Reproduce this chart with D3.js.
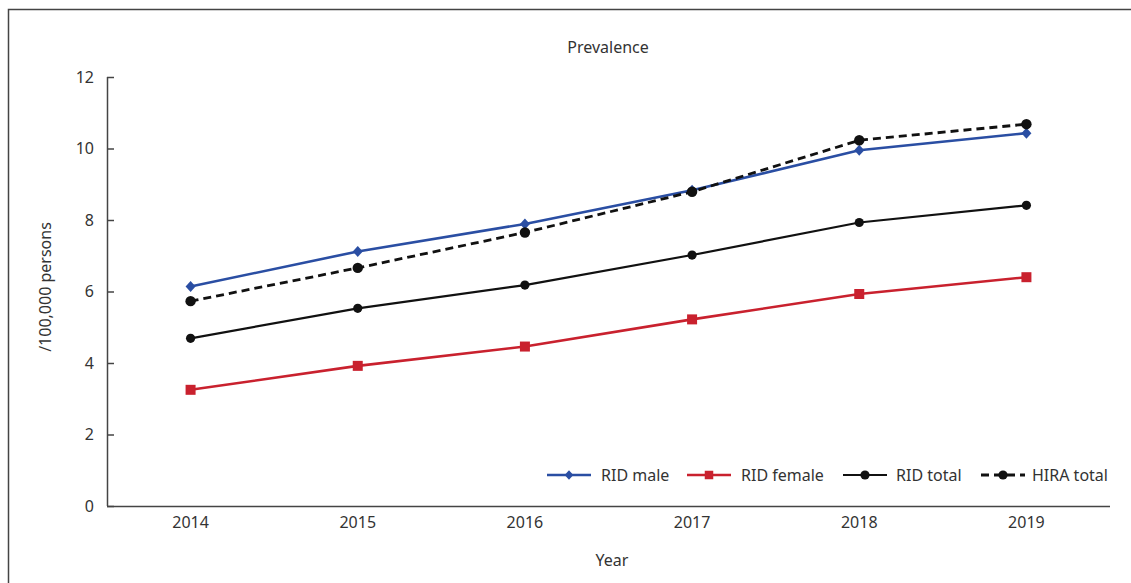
<!DOCTYPE html>
<html>
<head>
<meta charset="utf-8">
<script src="https://cdn.jsdelivr.net/npm/d3@7"></script>
<style>
  html, body { margin: 0; padding: 0; background: #fff; }
  svg { display: block; }
  text { font-family: "Noto Sans", "Open Sans", sans-serif; fill: #333; }
</style>
</head>
<body>
<svg id="chart" width="1131" height="583"></svg>
<script>
// Prevalence per 100,000 persons, 2014–2019
const years = ["2014", "2015", "2016", "2017", "2018", "2019"];
const ridMale   = [6.14, 7.12, 7.89, 8.83, 9.95, 10.43];
const ridFemale = [3.25, 3.92, 4.46, 5.22, 5.93, 6.40];
const ridTotal  = [4.69, 5.53, 6.18, 7.02, 7.93, 8.41];
const hiraTotal = [5.73, 6.66, 7.65, 8.79, 10.23, 10.68];
const yTicks = [0, 2, 4, 6, 8, 10, 12];

const seriesList = [
  { name: "RID male",   values: ridMale,   color: "#2a4ea3", width: 2.6, dash: null,  marker: "diamond", size: 9 },
  { name: "RID female", values: ridFemale, color: "#c9212e", width: 2.6, dash: null,  marker: "square",  size: 10 },
  { name: "RID total",  values: ridTotal,  color: "#111111", width: 2.2, dash: null,  marker: "circle",  size: 4.6 },
  { name: "HIRA total", values: hiraTotal, color: "#111111", width: 2.8, dash: "8,5", marker: "circle",  size: 5.2 }
];

const svg = d3.select("#chart");

// outer frame (left and top edges)
svg.append("path")
  .attr("d", "M8.5,583 L8.5,9.5 L1131,9.5")
  .attr("fill", "none").attr("stroke", "#444").attr("stroke-width", 1.5);

const plotLeft = 107, plotRight = 1110, plotTop = 77, plotBottom = 506;

const x = d3.scaleBand().domain(years).range([plotLeft, plotRight]);
const y = d3.scaleLinear().domain([0, 12]).range([plotBottom, plotTop]);

// y axis with inward ticks
const yAxis = svg.append("g").attr("transform", `translate(${plotLeft},0)`)
  .call(d3.axisRight(y).tickValues(yTicks).tickSize(7).tickFormat(d3.format("d")));
yAxis.select(".domain").attr("d", `M0.5,${plotTop}V${plotBottom}`).attr("stroke", "#444").attr("stroke-width", 1.5);
yAxis.selectAll(".tick line").attr("stroke", "#444").attr("stroke-width", 1.5);
yAxis.selectAll(".tick text")
  .attr("x", -13).attr("text-anchor", "end")
  .style("font-size", "16px").style("font-family", "'Noto Sans', sans-serif").attr("fill", "#333");

// x axis
const xAxis = svg.append("g").attr("transform", `translate(0,${plotBottom})`)
  .call(d3.axisBottom(x).tickSize(0).tickPadding(11));
xAxis.select(".domain").attr("d", `M${plotLeft},0.5H${plotRight}`).attr("stroke", "#444").attr("stroke-width", 1.5);
xAxis.selectAll(".tick text")
  .style("font-size", "16px").style("font-family", "'Noto Sans', sans-serif").attr("fill", "#333");

// title and axis labels
svg.append("text").attr("x", 608).attr("y", 53).attr("text-anchor", "middle")
  .style("font-size", "16px").text("Prevalence");
svg.append("text").attr("x", 612).attr("y", 566).attr("text-anchor", "middle")
  .style("font-size", "16px").text("Year");
svg.append("text").attr("transform", "translate(51,287) rotate(-90)").attr("text-anchor", "middle")
  .style("font-size", "16px").text("/100,000 persons");

function drawMarker(g, type, size, color) {
  if (type === "circle") {
    g.append("circle").attr("r", size).attr("fill", color);
  } else if (type === "square") {
    g.append("rect").attr("x", -size / 2).attr("y", -size / 2)
      .attr("width", size).attr("height", size).attr("fill", color);
  } else if (type === "diamond") {
    const s = size / 2 + 1;
    g.append("path").attr("d", `M0,${-s}L${s - 0.5},0L0,${s}L${-(s - 0.5)},0Z`).attr("fill", color);
  }
}

const cx = d => x(d) + x.bandwidth() / 2;
const line = d3.line().x((v, i) => cx(years[i])).y(v => y(v));

// series are drawn bottom-up so the dashed HIRA line sits on top
const drawOrder = [1, 2, 0, 3];
drawOrder.forEach(k => {
  const s = seriesList[k];
  const g = svg.append("g");
  g.append("path").datum(s.values)
    .attr("d", line).attr("fill", "none")
    .attr("stroke", s.color).attr("stroke-width", s.width)
    .attr("stroke-dasharray", s.dash);
  s.values.forEach((v, i) => {
    const mg = g.append("g").attr("transform", `translate(${cx(years[i])},${y(v)})`);
    drawMarker(mg, s.marker, s.size, s.color);
  });
});

// legend
const legendItems = [
  { x: 547, textX: 601 },
  { x: 687, textX: 741 },
  { x: 843, textX: 896 },
  { x: 981, textX: 1032 }
];
const ly = 475;
seriesList.forEach((s, k) => {
  const it = legendItems[k];
  const g = svg.append("g");
  g.append("line").attr("x1", it.x).attr("x2", it.x + 44).attr("y1", ly).attr("y2", ly)
    .attr("stroke", s.color).attr("stroke-width", s.width).attr("stroke-dasharray", s.dash);
  const mg = g.append("g").attr("transform", `translate(${it.x + 22},${ly})`);
  drawMarker(mg, s.marker, s.marker === "circle" ? 4.6 : s.size * 0.85, s.color);
  g.append("text").attr("x", it.textX).attr("y", ly + 6)
    .style("font-size", "16px").text(s.name);
});
</script>
</body>
</html>
